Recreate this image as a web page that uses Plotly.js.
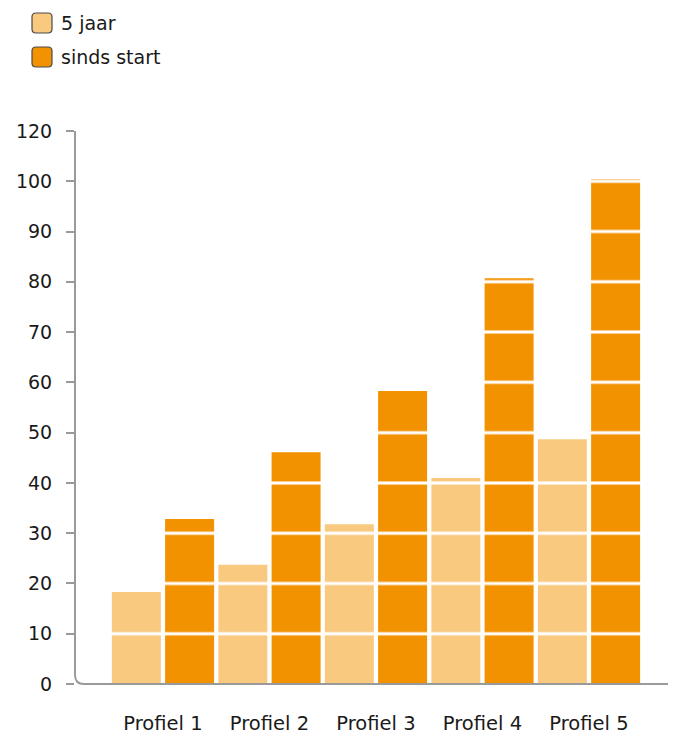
<!DOCTYPE html>
<html>
<head>
<meta charset="utf-8">
<script src="https://cdn.plot.ly/plotly-3.0.1.min.js"></script>
<style>
  html, body { margin: 0; padding: 0; background: #fff; }
  #chart { width: 675px; height: 736px; }
</style>
</head>
<body>
<div id="chart"></div>
<script>
// Rendement per beleggingsprofiel (in %)
const profielen = ['Profiel 1', 'Profiel 2', 'Profiel 3', 'Profiel 4', 'Profiel 5'];
const vijfJaar = [18.3, 23.7, 31.8, 41.0, 48.7];
const sindsStart = [32.8, 46.1, 58.3, 80.7, 100.4];
const serieNamen = ['5 jaar', 'sinds start'];
const serieKleuren = ['#F9C980', '#F39200'];
const yTickVals = [0, 10, 20, 30, 40, 50, 60, 70, 80, 90, 100, 110];
const yTickText = ['0', '10', '20', '30', '40', '50', '60', '70', '80', '90', '100', '120'];

const W = 675, H = 736;
const M = { l: 75, r: 7, t: 131, b: 52 };
const plotW = W - M.l - M.r, plotH = H - M.t - M.b;
const FONT = '"DejaVu Sans", "Noto Sans", sans-serif';
const TEXT = '#1a1a1a';

const traces = [vijfJaar, sindsStart].map((vals, i) => ({
  type: 'bar',
  name: serieNamen[i],
  x: profielen,
  y: vals,
  marker: { color: serieKleuren[i], line: { width: 0 } },
  showlegend: false,
  hoverinfo: 'x+y+name'
}));

const shapes = [];
// white grid lines drawn on top of the bars
yTickVals.filter(v => v > 0).forEach(v => {
  shapes.push({
    type: 'line', layer: 'above', xref: 'paper', yref: 'y',
    x0: 0, x1: 1, y0: v, y1: v,
    line: { color: 'rgba(255,255,255,0.55)', width: 4 }
  });
  shapes.push({
    type: 'line', layer: 'above', xref: 'paper', yref: 'y',
    x0: 0, x1: 1, y0: v, y1: v,
    line: { color: '#ffffff', width: 2 }
  });
});

// axis lines with a rounded corner at the origin
const r = 9;
shapes.push({
  type: 'path', layer: 'above',
  xref: 'paper', yref: 'paper',
  xsizemode: 'pixel', ysizemode: 'pixel', xanchor: 0, yanchor: 0,
  path: `M0,${plotH} L0,${r} Q0,0 ${r},0 L${plotW},0`,
  line: { color: '#9a9a9a', width: 2 }
});

// legend: rounded swatches + labels
const annotations = [];
serieNamen.forEach((naam, i) => {
  const top = (M.t - 13) - i * 34;     // pixels above the plot top
  const left = 32 - M.l;
  const s = 20, rr = 4;
  const x0 = left, x1 = left + s, y1 = top, y0 = top - s;
  shapes.push({
    type: 'path', layer: 'above',
    xref: 'paper', yref: 'paper',
    xsizemode: 'pixel', ysizemode: 'pixel', xanchor: 0, yanchor: 1,
    path: `M${x0 + rr},${y0} L${x1 - rr},${y0} Q${x1},${y0} ${x1},${y0 + rr} ` +
          `L${x1},${y1 - rr} Q${x1},${y1} ${x1 - rr},${y1} L${x0 + rr},${y1} ` +
          `Q${x0},${y1} ${x0},${y1 - rr} L${x0},${y0 + rr} Q${x0},${y0} ${x0 + rr},${y0} Z`,
    fillcolor: serieKleuren[i],
    line: { color: '#4a4a4a', width: 1.2 }
  });
  annotations.push({
    xref: 'paper', yref: 'paper',
    x: (59 - M.l) / plotW,
    y: 1 + (M.t - (23 + i * 34)) / plotH,
    xanchor: 'left', yanchor: 'middle',
    text: naam, showarrow: false,
    font: { family: FONT, size: 19, color: TEXT }
  });
});

const layout = {
  width: W, height: H,
  margin: M,
  paper_bgcolor: '#ffffff',
  plot_bgcolor: '#ffffff',
  barmode: 'group',
  bargap: 0,
  bargroupgap: 0.08,
  font: { family: FONT, color: TEXT },
  xaxis: {
    range: [-0.826, 4.742],
    showline: false, showgrid: false, zeroline: false,
    ticks: '',
    ticklabelstandoff: 25,
    tickfont: { family: FONT, size: 19.5, color: TEXT },
    fixedrange: true
  },
  yaxis: {
    range: [0, 110],
    tickmode: 'array',
    tickvals: yTickVals,
    ticktext: yTickText,
    showline: false, showgrid: false, zeroline: false,
    ticks: 'outside', ticklen: 8, tickwidth: 2, tickcolor: '#9a9a9a',
    ticklabelstandoff: 10,
    tickfont: { family: FONT, size: 19, color: TEXT },
    fixedrange: true
  },
  shapes: shapes,
  annotations: annotations,
  showlegend: false
};

Plotly.newPlot('chart', traces, layout, { displayModeBar: false, staticPlot: true });
</script>
</body>
</html>
